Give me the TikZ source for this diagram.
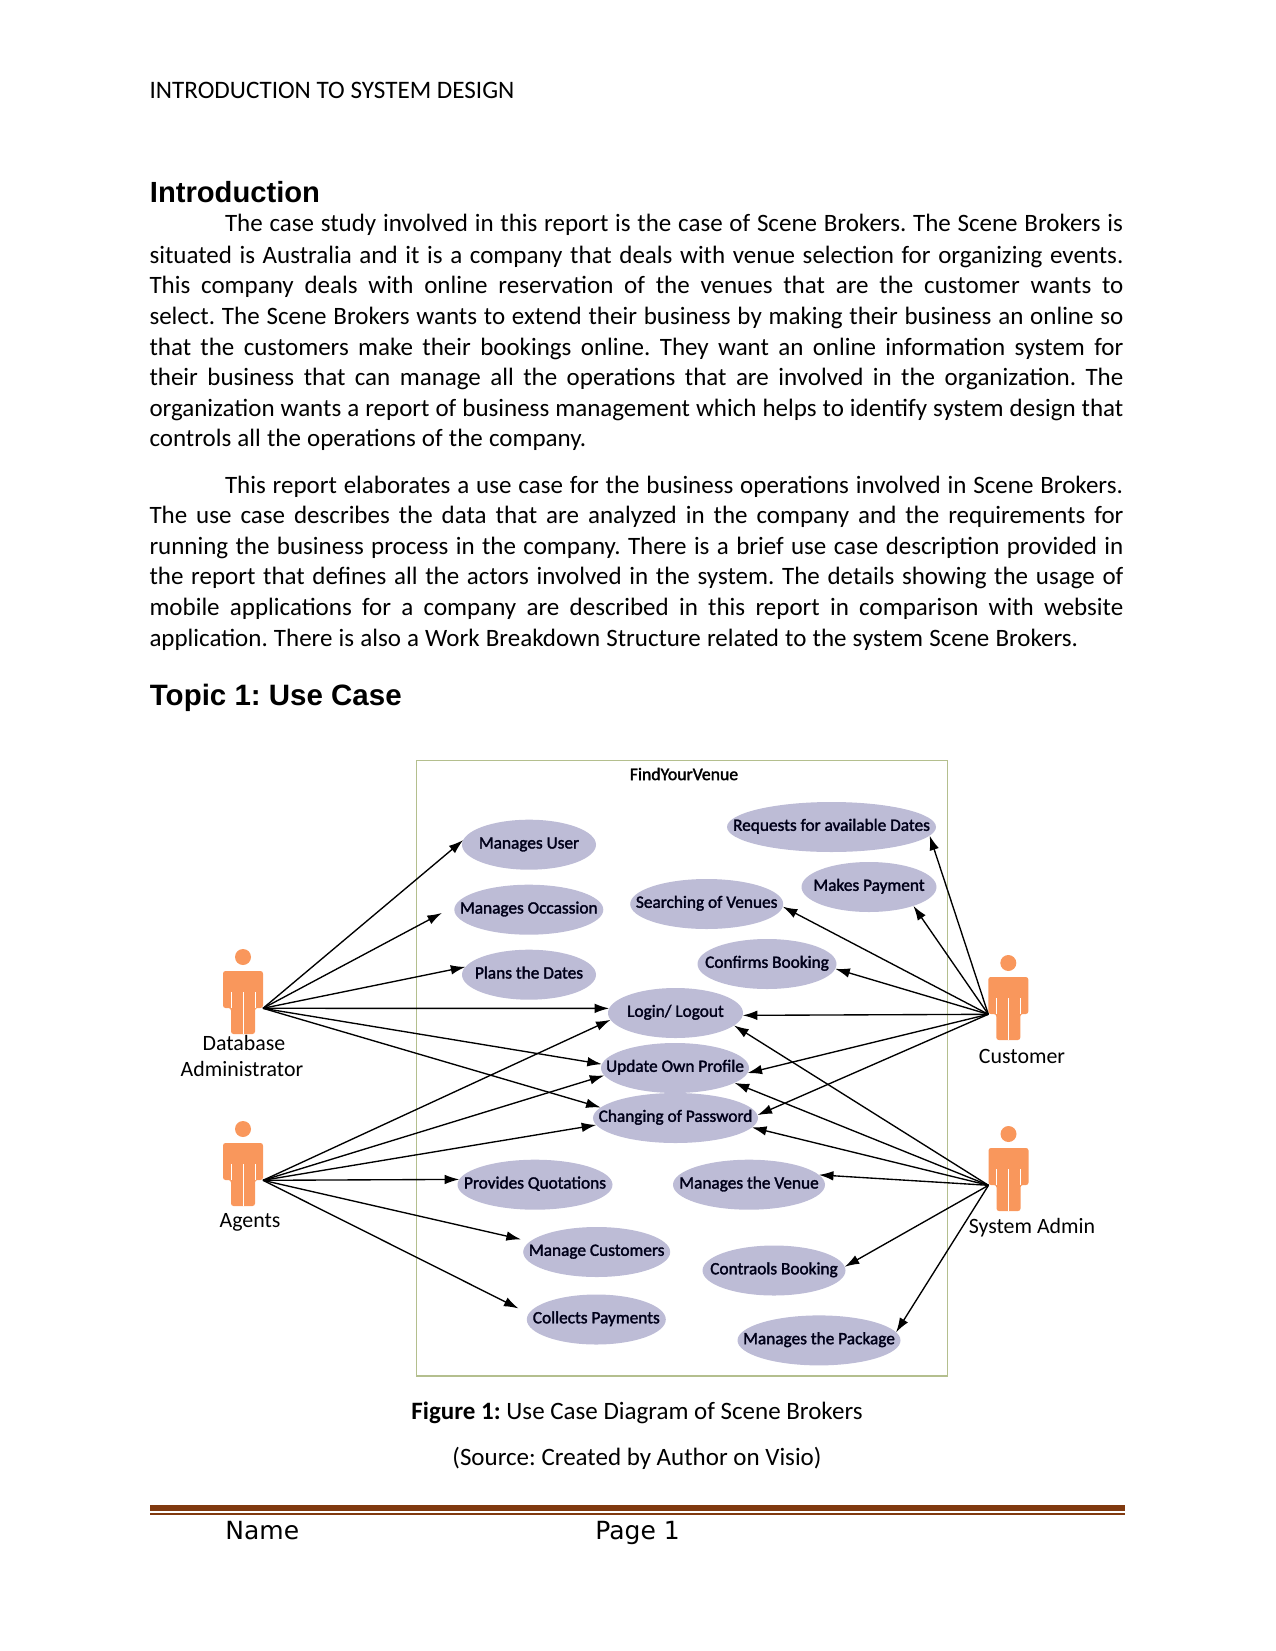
\documentclass[tikz,border=0pt]{standalone}
\usepackage{fontspec}
\usetikzlibrary{arrows.meta,shapes.geometric}
\setmainfont{Carlito}
\newfontfamily\headfont{Liberation Sans}
\newfontfamily\footfont{DejaVu Sans}
\newfontfamily\ucfont[FakeBold=1.8]{Carlito}
\definecolor{ucfill}{HTML}{BDBCD6}
\definecolor{actorfill}{HTML}{F9975C}
\definecolor{framecol}{HTML}{B4BF8E}
\definecolor{rulecol}{HTML}{80390F}
\frenchspacing
\newcommand{\jline}[1]{\makebox[467.5pt][s]{#1}}
\newcommand{\jlinei}[1]{\makebox[431pt][s]{#1}}
\tikzset{
  textline/.style={anchor=base west,inner sep=0pt,outer sep=0pt,font=\fontsize{12}{14}\selectfont},
  heading/.style={anchor=base west,inner sep=0pt,font=\headfont\bfseries\fontsize{14}{16}\selectfont},
  actorlabel/.style={anchor=center,inner sep=0pt,font=\fontsize{10.5}{12}\selectfont},
  usecase/.style={ellipse,fill=ucfill,draw=none,inner sep=0pt,outer sep=0pt,minimum height=50*0.48pt,font=\ucfont\fontsize{8.3}{9.6}\selectfont,text=black!90!blue},
  assoc/.style={draw=black,line width=0.65pt,-{Latex[length=7pt,width=4.6pt]}},
  actor/.pic={
    \fill[actorfill] (0,-6) circle (8);
    \fill[actorfill,rounded corners=1.2pt] (-20,8) -- (-20,45) -- (-12,45) -- (-12,71) -- (12,71) -- (12,45) -- (20,45) -- (20,8) -- cycle;
    \draw[white,line width=0.25pt] (-12,29) -- (-12,45) (12,29) -- (12,45) (0,29) -- (0,71);
    \coordinate (-lefthand) at (-20,45.3);
    \coordinate (-righthand) at (20,45.3);
  }
}
\newcommand{\uc}[1]{\makebox[0pt]{\smash{\raisebox{-0.22em}{#1}}}}
\begin{document}
\begin{tikzpicture}[x=0.48pt,y=-0.48pt]
\useasboundingbox (0,0) rectangle (1275,1651);

% running header
\node[textline,font=\fontsize{12.07}{14}\selectfont] (hdr) at (149.5,98.5) {INTRODUCTION TO SYSTEM DESIGN};

% introduction
\node[heading] (h1) at (149.5,203) {Introduction};
\node[textline] (a1) at (225,232) {\jlinei{The case study involved in this report is the case of Scene Brokers. The Scene Brokers is}};
\node[textline] (a2) at (149.5,263.5) {\jline{situated is Australia and it is a company that deals with venue selection for organizing events.}};
\node[textline] (a3) at (149.5,294) {\jline{This company deals with online reservation of the venues that are the customer wants to}};
\node[textline] (a4) at (149.5,324) {\jline{select. The Scene Brokers wants to extend their business by making their business an online so}};
\node[textline] (a5) at (149.5,355) {\jline{that the customers make their bookings online. They want an online information system for}};
\node[textline] (a6) at (149.5,385.5) {\jline{their business that can manage all the operations that are involved in the organization. The}};
\node[textline] (a7) at (149.5,416.5) {\jline{organization wants a report of business management which helps to identify system design that}};
\node[textline] (a8) at (149.5,446.5) {\makebox[209.7pt][s]{controls all the operations of the company.}};

\node[textline] (b1) at (225,493) {\jlinei{This report elaborates a use case for the business operations involved in Scene Brokers.}};
\node[textline] (b2) at (149.5,523.5) {\jline{The use case describes the data that are analyzed in the company and the requirements for}};
\node[textline] (b3) at (149.5,554) {\jline{running the business process in the company. There is a brief use case description provided in}};
\node[textline] (b4) at (149.5,584.5) {\jline{the report that defines all the actors involved in the system. The details showing the usage of}};
\node[textline] (b5) at (149.5,615) {\jline{mobile applications for a company are described in this report in comparison with website}};
\node[textline] (b6) at (149.5,646) {\makebox[445.7pt][s]{application. There is also a Work Breakdown Structure related to the system Scene Brokers.}};

\node[heading,font=\headfont\bfseries\fontsize{14.15}{16}\selectfont] (h2) at (149.5,705) {Topic 1: Use Case};

% system boundary
\draw[framecol,line width=0.5pt] (416.5,760.5) rectangle (947.5,1376);
\node[inner sep=0pt,font=\ucfont\fontsize{8.5}{9.6}\selectfont] (sys) at (684,774) {FindYourVenue};

% use cases
\node[usecase,minimum width=134*0.48pt] (mu) at (529,844.7) {\uc{Manages User}};
\node[usecase,minimum width=149*0.48pt] (mo) at (528.8,909.7) {\uc{Manages Occassion}};
\node[usecase,minimum width=134*0.48pt] (pd) at (529,974.7) {\uc{Plans the Dates}};
\node[usecase,minimum width=135*0.48pt] (ll) at (675.5,1013) {\uc{Login/ Logout}};
\node[usecase,minimum width=148*0.48pt] (up) at (675,1068) {\uc{Update Own Profile}};
\node[usecase,minimum width=165*0.48pt] (cp) at (675.5,1118) {\uc{Changing of Password}};
\node[usecase,minimum width=209*0.48pt] (rd) at (831.5,827) {\uc{Requests for available Dates}};
\node[usecase,minimum width=135*0.48pt] (mp) at (869,887) {\uc{Makes Payment}};
\node[usecase,minimum width=153*0.48pt] (sv) at (706.7,904) {\uc{Searching of Venues}};
\node[usecase,minimum width=139*0.48pt] (cb) at (767,964) {\uc{Confirms Booking}};
\node[usecase,minimum width=155*0.48pt] (pq) at (535,1184.7) {\uc{Provides Quotations}};
\node[usecase,minimum width=152*0.48pt] (mv) at (749,1184.7) {\uc{Manages the Venue}};
\node[usecase,minimum width=147*0.48pt] (mc) at (596.7,1252) {\uc{Manage Customers}};
\node[usecase,minimum width=143*0.48pt] (kb) at (774,1270.5) {\uc{Contraols Booking}};
\node[usecase,minimum width=139*0.48pt] (cl) at (596.3,1319.5) {\uc{Collects Payments}};
\node[usecase,minimum width=163*0.48pt] (mk) at (819,1340.4) {\uc{Manages the Package}};

% actors
\pic (db) at (243,963) {actor};
\pic (cu) at (1008.3,969) {actor};
\pic (ag) at (243,1135) {actor};
\pic (sa) at (1008.5,1140) {actor};
\node[actorlabel] (dbl1) at (244,1043) {Database};
\node[actorlabel] (dbl2) at (242,1068.5) {Administrator};
\node[actorlabel] (cul) at (1022,1056) {Customer};
\node[actorlabel] (agl) at (250,1222) {Agents};
\node[actorlabel] (sal) at (1032,1227.5) {System Admin};

% database administrator
\draw[assoc] (db-righthand) -- (mu.176);
\draw[assoc,shorten >=7.2pt] (db-righthand) -- (mo.177);
\draw[assoc] (db-righthand) -- (pd.173.4);
\draw[assoc] (db-righthand) -- (ll.176);
\draw[assoc] (db-righthand) -- (up.177);
\draw[assoc] (db-righthand) -- (cp.172);

% agents
\draw[assoc] (ag-righthand) -- (ll.186.6);
\draw[assoc] (ag-righthand) -- (up.186.3);
\draw[assoc] (ag-righthand) -- (cp.185);
\draw[assoc] (ag-righthand) -- (pq.176.5);
\draw[assoc,shorten >=4.5pt] (ag-righthand) -- (mc.171);
\draw[assoc,shorten >=5.5pt] (ag-righthand) -- (cl.175.9);

% customer
\draw[assoc] (cu-lefthand) -- (rd.355);
\draw[assoc] (cu-lefthand) -- (mp.337);
\draw[assoc] (cu-lefthand) -- (sv.358);
\draw[assoc] (cu-lefthand) -- (cb.356.5);
\draw[assoc] (cu-lefthand) -- (ll.358.6);
\draw[assoc] (cu-lefthand) -- (up.356.4);
\draw[assoc] (cu-lefthand) -- (cp.2.8);

% system admin
\draw[assoc] (sa-lefthand) -- (ll.348.7);
\draw[assoc] (sa-lefthand) -- (up.346.1);
\draw[assoc] (sa-lefthand) -- (cp.353.4);
\draw[assoc] (sa-lefthand) -- (mv.8.7);
\draw[assoc] (sa-lefthand) -- (kb.3.5);
\draw[assoc] (sa-lefthand) -- (mk.6.2);

% caption
\node[anchor=center,inner sep=0pt,font=\fontsize{12}{14}\selectfont] (cap1) at (637,1413) {\textbf{Figure 1:} Use Case Diagram of Scene Brokers};
\node[anchor=center,inner sep=0pt,font=\fontsize{12}{14}\selectfont] (cap2) at (637,1458) {(Source: Created by Author on Visio)};

% footer
\fill[rulecol] (150,1505.3) rectangle (1124.5,1510.7);
\fill[rulecol] (150,1512.7) rectangle (1124.5,1514.7);
\node[anchor=base west,inner sep=0pt,font=\footfont\fontsize{12}{14}\selectfont] (fn) at (225,1539) {Name};
\node[anchor=base west,inner sep=0pt,font=\footfont\fontsize{12}{14}\selectfont] (fp) at (595,1539) {Page 1};
\end{tikzpicture}
\end{document}
